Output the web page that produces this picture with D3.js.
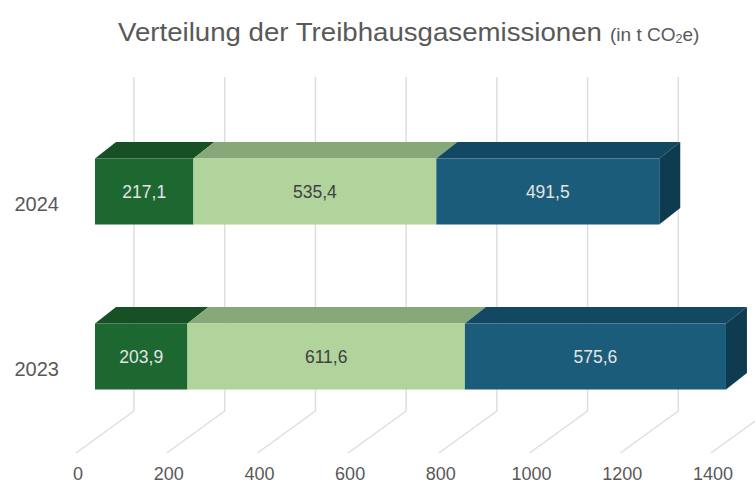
<!DOCTYPE html>
<html>
<head>
<meta charset="utf-8">
<script src="https://cdn.jsdelivr.net/npm/d3@7"></script>
<style>
  body { margin: 0; background: #fff; }
  svg { display: block; font-family: "Liberation Sans", Arial, sans-serif; }
</style>
</head>
<body>
<svg id="chart" width="755" height="484"></svg>
<script>
// values
const years = ["2024", "2023"];
const scope1 = [217.1, 203.9];
const scope2 = [535.4, 611.6];
const scope3 = [491.5, 575.6];
const xTicks = [0, 200, 400, 600, 800, 1000, 1200, 1400];

const frontColors = ["#1d6830", "#b0d49c", "#1a5c7a"];
const topColors = ["#175025", "#87a878", "#124862"];
const sideColor = "#0f3b51";
const labelColors = ["#e4e4e4", "#404040", "#e4e4e4"];

const width = 755, height = 484;
const svg = d3.select("#chart");

const fmt = d3.formatLocale({ decimal: ",", thousands: ".", grouping: [3], currency: ["", "€"] }).format(".1f");

// back wall scale
let x = d3.scaleLinear().domain([0, 1400]).range([134, 769]);
// where the bar front faces sit relative to the back wall
const frontDx = -39;
const depth = { dx: 21, dy: -16.5 };
const floor = { dx: -58, dy: 42 };
const gridTop = 77, gridBottom = 411;

let y = d3.scaleBand()
  .domain(years)
  .range([109, 439])
  .paddingInner(0.6)
  .paddingOuter(0.3);

// gridlines on back wall and floor
let grid = svg.append("g").attr("class", "grid")
  .attr("stroke", "#dedede").attr("stroke-width", 1.5).attr("fill", "none");

grid.selectAll("line.v")
  .data(xTicks)
  .enter()
  .append("line")
  .attr("class", "v")
  .attr("x1", d => x(d)).attr("x2", d => x(d))
  .attr("y1", gridTop).attr("y2", gridBottom);

grid.selectAll("line.f")
  .data(xTicks)
  .enter()
  .append("line")
  .attr("class", "f")
  .attr("x1", d => x(d)).attr("y1", gridBottom)
  .attr("x2", d => x(d) + floor.dx).attr("y2", gridBottom + floor.dy);

// tick labels along the front of the floor
svg.append("g")
  .selectAll("text")
  .data(xTicks)
  .enter()
  .append("text")
  .attr("x", d => x(d) - 56)
  .attr("y", 480)
  .attr("text-anchor", "middle")
  .attr("font-size", 18)
  .attr("fill", "#595959")
  .text(d => d);

// stacked segments
const series = [scope1, scope2, scope3];
let segments = [];
years.forEach((yr, i) => {
  let start = 0;
  series.forEach((s, k) => {
    segments.push({ year: yr, k: k, v0: start, v1: start + s[i], value: s[i], last: k === series.length - 1 });
    start += s[i];
  });
});

const fx = v => x(v) + frontDx;
const poly = pts => pts.map(p => p.join(",")).join(" ");

let bars = svg.append("g").attr("class", "bars");

// top faces
bars.selectAll("polygon.top")
  .data(segments)
  .enter()
  .append("polygon")
  .attr("class", "top")
  .attr("fill", d => topColors[d.k])
  .attr("points", d => {
    const yt = y(d.year);
    return poly([[fx(d.v0), yt], [fx(d.v1), yt], [fx(d.v1) + depth.dx, yt + depth.dy], [fx(d.v0) + depth.dx, yt + depth.dy]]);
  });

// right side of the last segment
bars.selectAll("polygon.side")
  .data(segments.filter(d => d.last))
  .enter()
  .append("polygon")
  .attr("class", "side")
  .attr("fill", sideColor)
  .attr("points", d => {
    const yt = y(d.year), yb = yt + y.bandwidth(), xr = fx(d.v1);
    return poly([[xr, yt], [xr + depth.dx, yt + depth.dy], [xr + depth.dx, yb + depth.dy], [xr, yb]]);
  });

// front faces
bars.selectAll("rect.front")
  .data(segments)
  .enter()
  .append("rect")
  .attr("class", "front")
  .attr("x", d => fx(d.v0))
  .attr("y", d => y(d.year))
  .attr("width", d => fx(d.v1) - fx(d.v0))
  .attr("height", y.bandwidth())
  .attr("fill", d => frontColors[d.k]);

// value labels
bars.selectAll("text.val")
  .data(segments)
  .enter()
  .append("text")
  .attr("class", "val")
  .attr("x", d => (fx(d.v0) + fx(d.v1)) / 2)
  .attr("y", d => y(d.year) + y.bandwidth() / 2)
  .attr("dy", "0.36em")
  .attr("text-anchor", "middle")
  .attr("font-size", 17.5)
  .attr("fill", d => labelColors[d.k])
  .text(d => fmt(d.value));

// category labels
svg.append("g")
  .selectAll("text")
  .data(years)
  .enter()
  .append("text")
  .attr("x", 59)
  .attr("y", d => y(d) + y.bandwidth() / 2 + 12.5)
  .attr("dy", "0.36em")
  .attr("text-anchor", "end")
  .attr("font-size", 20)
  .attr("fill", "#595959")
  .text(d => d);

// title (main part + unit)
svg.append("text")
  .attr("x", 118)
  .attr("y", 41)
  .attr("fill", "#595959")
  .attr("font-size", 25)
  .attr("textLength", 484)
  .attr("lengthAdjust", "spacingAndGlyphs")
  .text("Verteilung der Treibhausgasemissionen");

let unit = svg.append("text")
  .attr("x", 610)
  .attr("y", 41)
  .attr("fill", "#595959")
  .attr("font-size", 19);
unit.append("tspan").text("(in t CO");
unit.append("tspan").attr("font-size", 12.5).attr("dy", 2).text("2");
unit.append("tspan").attr("dy", -2).text("e)");
</script>
</body>
</html>
